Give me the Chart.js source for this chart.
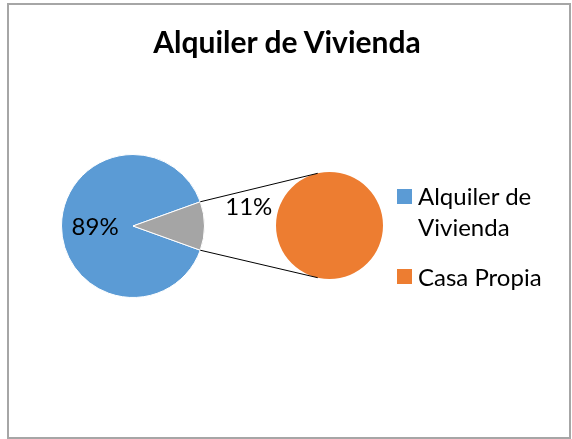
<!DOCTYPE html>
<html>
<head>
<meta charset="utf-8">
<script src="https://cdn.jsdelivr.net/npm/chart.js@4.4.0/dist/chart.umd.min.js"></script>
<style>
  html, body { margin: 0; padding: 0; background: #fff; }
  #wrap { position: relative; width: 572px; height: 439px; overflow: hidden; }
  #wrap canvas { position: absolute; left: 0; top: 0; }
  #frame { position: absolute; left: 7px; top: 3px; width: 564px; height: 436px;
           border: 2px solid #a6a6a6; box-sizing: border-box; }
  #title { position: absolute; left: 0; top: 23px; width: 574px; text-align: center;
           font-family: Lato, sans-serif; font-weight: bold; font-size: 30px; line-height: 36px; color: #000; }
  .leg { position: absolute; font-family: Lato, sans-serif; font-size: 24px;
         line-height: 31px; color: #000; white-space: nowrap; }
  #legend i { position: absolute; width: 15px; height: 15px; }
</style>
</head>
<body>
<div id="wrap">
  <div id="frame"></div>
  <canvas id="second" width="572" height="439"></canvas>
  <canvas id="main" width="572" height="439"></canvas>
  <div id="title"></div>
  <div id="legend"></div>
</div>
<script>
const chartTitle = 'Alquiler de Vivienda';
const categories = ['Alquiler de Vivienda', 'Casa Propia'];
const shares = [89, 11];
const mainColors = ['#5B9BD5', '#A5A5A5'];
const secondColor = '#ED7D31';
const legendColors = ['#5B9BD5', '#ED7D31'];

const total = shares.reduce((a, b) => a + b, 0);
const pct = v => Math.round(v / total * 100) + '%';
// turn the main pie so the broken-out slice sits centred at 3 o'clock
const otherDeg = shares[1] / total * 360;

document.getElementById('title').textContent = chartTitle;

// second pie (the 11% broken out)
const chartB = new Chart(document.getElementById('second'), {
  type: 'pie',
  data: {
    labels: [categories[1]],
    datasets: [{ data: [shares[1]], backgroundColor: [secondColor], borderWidth: 0, hoverOffset: 0 }]
  },
  options: {
    responsive: false,
    animation: false,
    events: [],
    layout: { padding: { left: 276, right: 189, top: 172, bottom: 160 } },
    plugins: { legend: { display: false }, tooltip: { enabled: false } }
  }
});

const connectors = {
  id: 'connectors',
  afterDatasetsDraw(chart) {
    const a = chart.getDatasetMeta(0).data[1];
    const b = chartB.getDatasetMeta(0).data[0];
    const ctx = chart.ctx;
    const ends = [
      [a.startAngle, -102.7 * Math.PI / 180],
      [a.endAngle, 102.7 * Math.PI / 180]
    ];
    ctx.save();
    ctx.strokeStyle = '#000';
    ctx.lineWidth = 1;
    ends.forEach(([aa, ba]) => {
      ctx.beginPath();
      ctx.moveTo(a.x + Math.cos(aa) * a.outerRadius, a.y + Math.sin(aa) * a.outerRadius);
      ctx.lineTo(b.x + Math.cos(ba) * b.outerRadius, b.y + Math.sin(ba) * b.outerRadius);
      ctx.stroke();
    });
    ctx.restore();
  }
};

const pieLabels = {
  id: 'pieLabels',
  afterDraw(chart) {
    const arcs = chart.getDatasetMeta(0).data;
    const ctx = chart.ctx;
    ctx.save();
    ctx.font = '24px Lato';
    ctx.fillStyle = '#000';
    ctx.textAlign = 'center';
    ctx.textBaseline = 'middle';
    // main slice: inside
    let m = arcs[0];
    let mid = (m.startAngle + m.endAngle) / 2;
    ctx.fillText(pct(shares[0]), m.x + Math.cos(mid) * m.outerRadius * 0.53, m.y + Math.sin(mid) * m.outerRadius * 0.53 + 1);
    // broken-out slice: outside, above the connector gap
    m = arcs[1];
    mid = (m.startAngle + m.endAngle) / 2 - 0.16;
    ctx.fillText(pct(shares[1]), m.x + Math.cos(mid) * m.outerRadius * 1.64, m.y + Math.sin(mid) * m.outerRadius * 1.64);
    ctx.restore();
  }
};

const chartA = new Chart(document.getElementById('main'), {
  type: 'pie',
  data: {
    labels: [categories[0], 'Otros'],
    datasets: [{
      data: shares,
      backgroundColor: mainColors,
      borderColor: '#fff',
      borderWidth: 1,
      hoverOffset: 0
    }]
  },
  options: {
    responsive: false,
    animation: false,
    events: [],
    rotation: 90 + otherDeg / 2,
    layout: { padding: { left: 61, right: 367, top: 154, bottom: 141 } },
    plugins: {
      legend: { display: false },
      tooltip: { enabled: false },
      title: { display: false }
    }
  },
  plugins: [connectors, pieLabels]
});

// legend
const legendBox = document.getElementById('legend');
const legendRows = [['Alquiler de', 'Vivienda'], ['Casa Propia']];
const legendTops = [180, 261];
const legendSquares = [189, 269];
categories.forEach((c, i) => {
  const d = document.createElement('div');
  d.className = 'leg';
  d.style.left = '418px';
  d.style.top = legendTops[i] + 'px';
  d.innerHTML = legendRows[i].join('<br>');
  legendBox.appendChild(d);
  const sq = document.createElement('i');
  sq.style.left = '397px';
  sq.style.top = legendSquares[i] + 'px';
  sq.style.background = legendColors[i];
  legendBox.appendChild(sq);
});
</script>
</body>
</html>
